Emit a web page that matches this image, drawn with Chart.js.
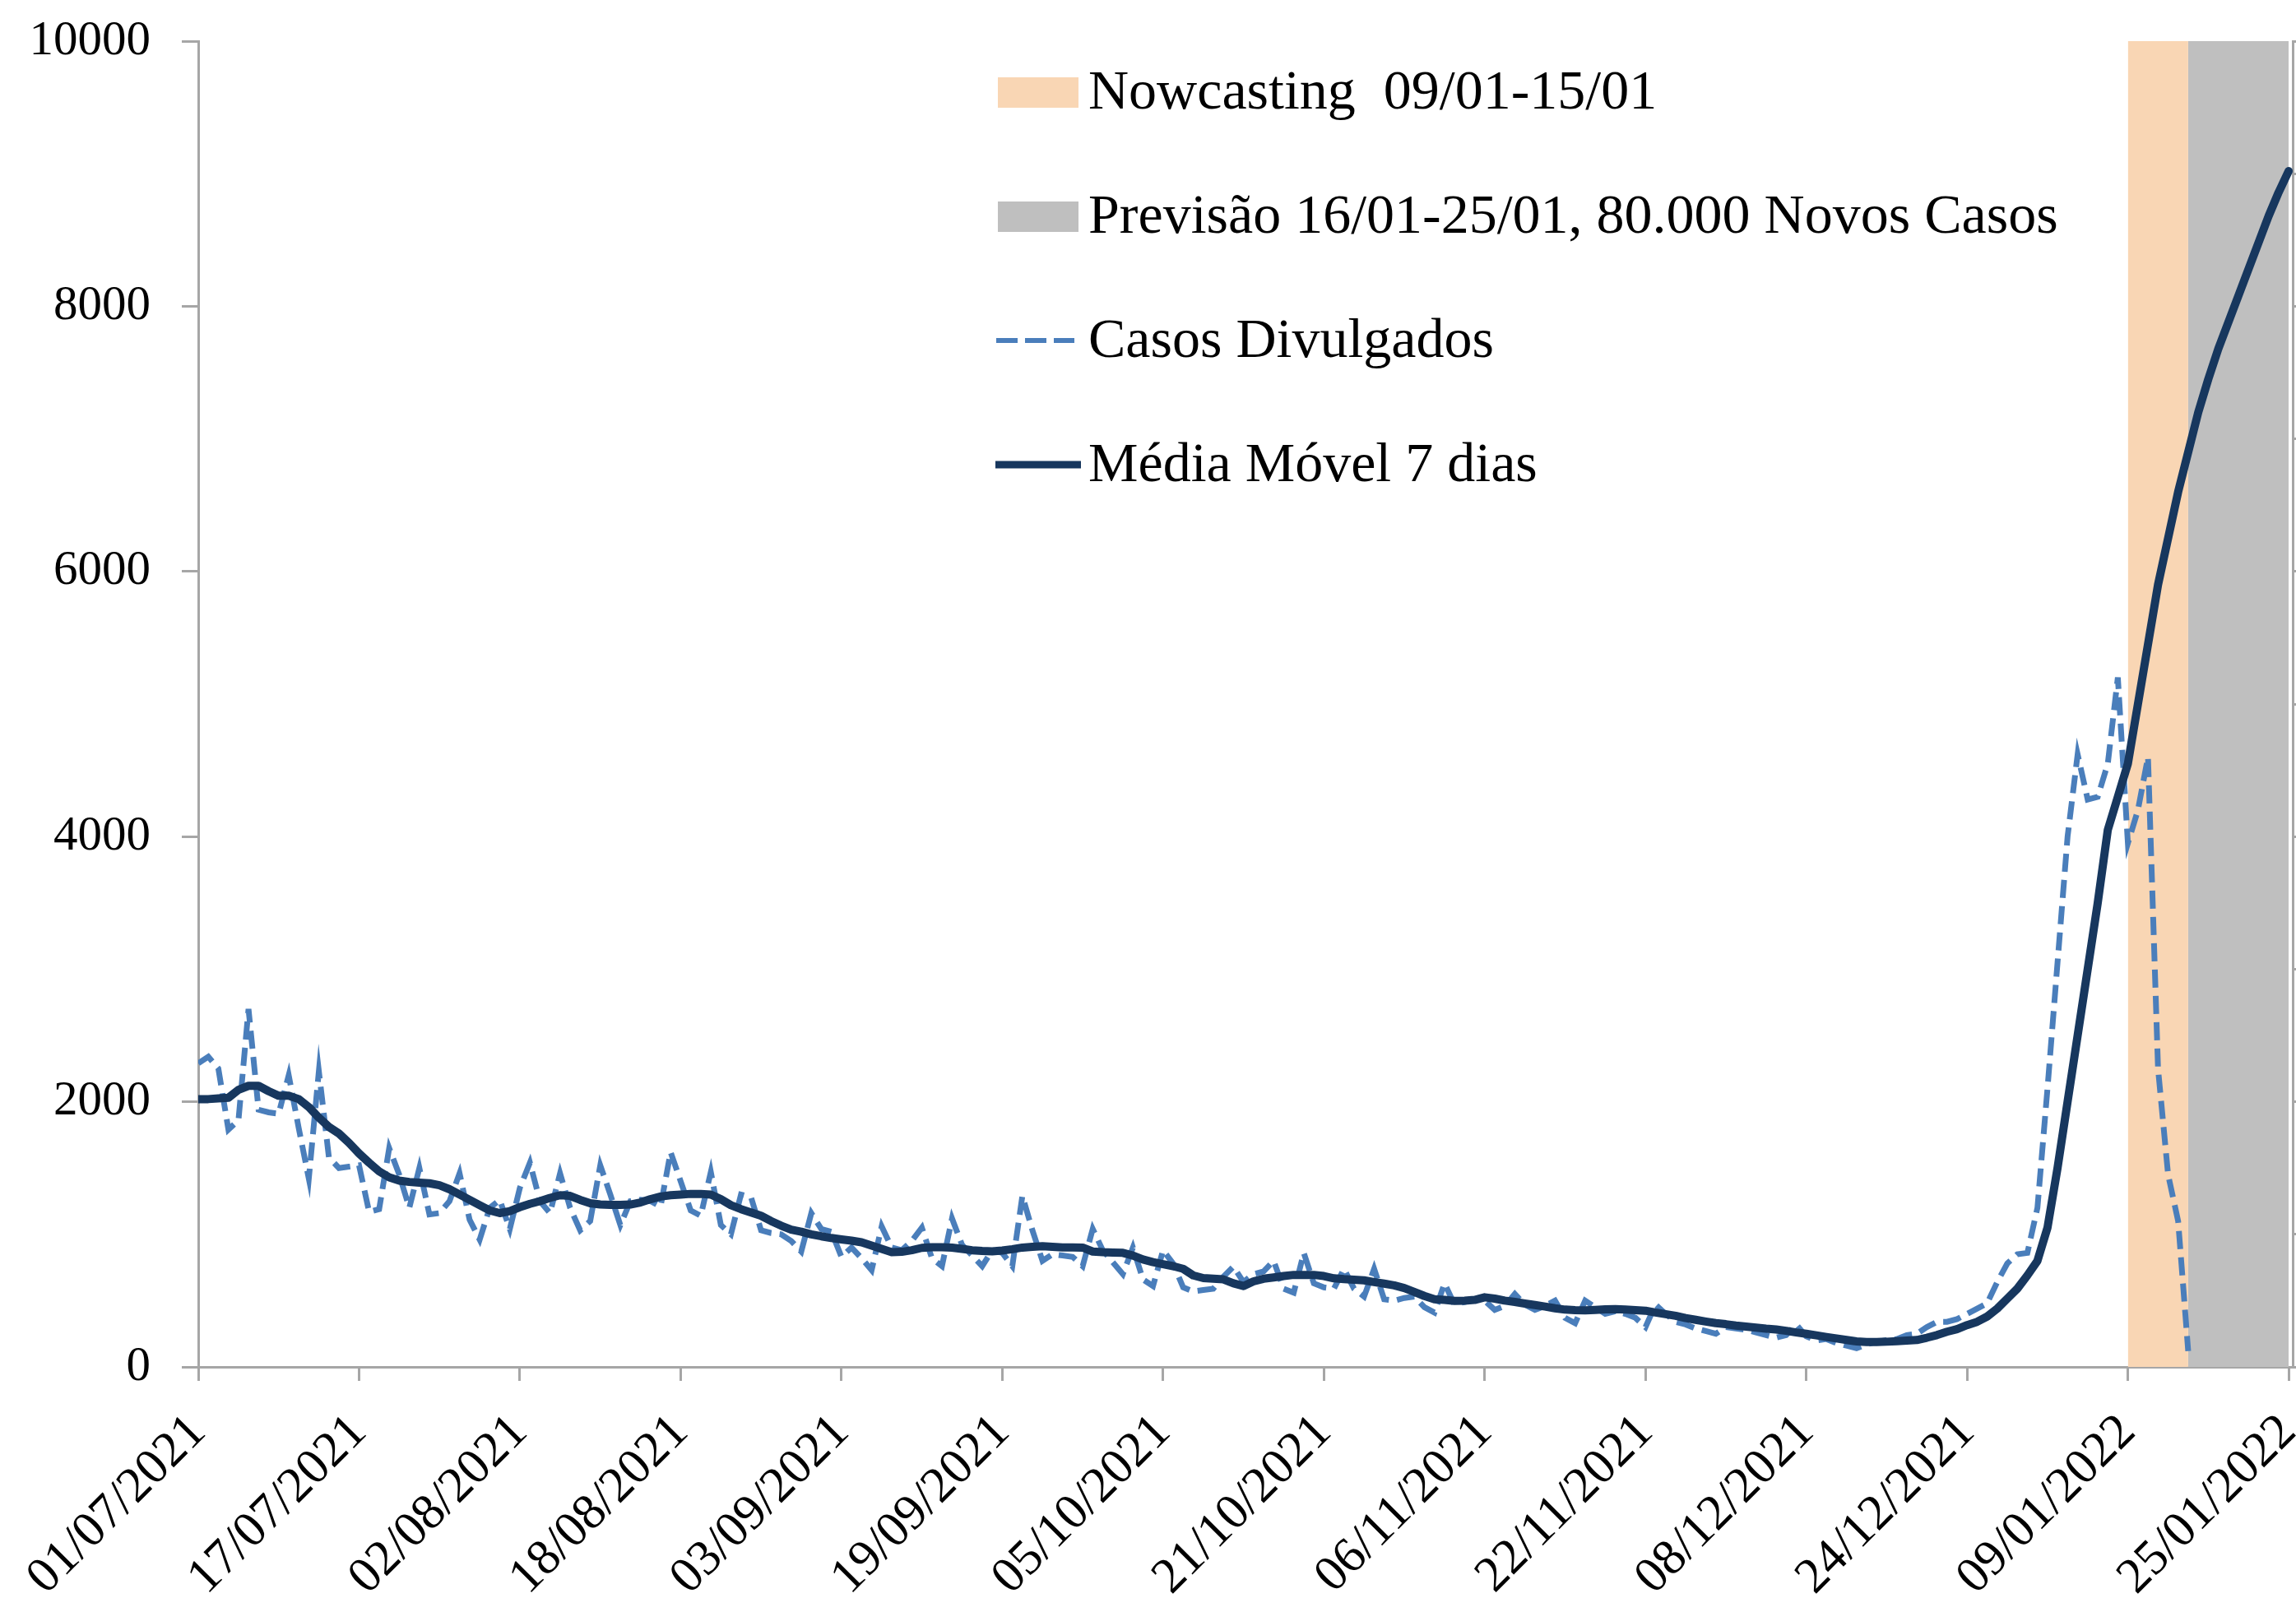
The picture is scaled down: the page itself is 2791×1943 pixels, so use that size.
<!DOCTYPE html>
<html>
<head>
<meta charset="utf-8">
<script src="https://cdn.jsdelivr.net/npm/chart.js@4.4.1/dist/chart.umd.min.js"></script>
<style>
  html, body { margin: 0; padding: 0; background: #ffffff; }
  #wrap { position: relative; width: 2791px; height: 1943px; overflow: hidden; background: #ffffff; }
  #c { position: absolute; left: 0; top: 0; }
  .lgtext { position: absolute; font-family: 'Liberation Serif', 'Times New Roman', serif; font-size: 68px; line-height: 68px; color: #000; white-space: pre; }
  .lgsw { position: absolute; }
</style>
</head>
<body>
<div id="wrap">
  <canvas id="c" width="2791" height="1943"></canvas>
</div>
<script>
// ---------------- DATA ----------------
const firstDay = [2021, 6, 1]; // 01/07/2021 (month is 0-based)
const tickLabels = ['01/07/2021','17/07/2021','02/08/2021','18/08/2021','03/09/2021','19/09/2021','05/10/2021',
                    '21/10/2021','06/11/2021','22/11/2021','08/12/2021','24/12/2021','09/01/2022','25/01/2022'];
const yTicks = [0, 2000, 4000, 6000, 8000, 10000];

// Casos Divulgados (daily reported cases), 01/07/2021 .. 15/01/2022
const casos = [
  2290, 2340, 2250, 1790, 1860, 2700, 1940, 1920, 1910, 2200,
  1800, 1420, 2230, 1580, 1500, 1510, 1520, 1170, 1190, 1650,
  1450, 1200, 1500, 1150, 1160, 1250, 1460, 1110, 960, 1200,
  1260, 1040, 1350, 1540, 1250, 1160, 1460, 1200, 1030, 1100,
  1520, 1300, 1070, 1250, 1260, 1250, 1210, 1620, 1400, 1180,
  1140, 1470, 1070, 1000, 1300, 1280, 1030, 1010, 1000, 950,
  870, 1160, 1040, 1020, 830, 900, 820, 730, 1060, 900,
  880, 950, 1050, 820, 760, 1120, 920, 840, 760, 880,
  860, 760, 1290, 1030, 800, 850, 840, 830, 760, 1040,
  880, 790, 700, 900, 660, 610, 880, 780, 600, 570,
  580, 590, 680, 756, 640, 700, 720, 800, 590, 560,
  860, 630, 600, 590, 740, 590, 530, 740, 510, 500,
  520, 530, 450, 410, 630, 470, 490, 510, 500, 430,
  460, 550, 470, 430, 460, 500, 370, 330, 500, 450,
  400, 420, 400, 370, 300, 470, 400, 340, 320, 290,
  270, 250, 300, 290, 280, 260, 240, 220, 240, 320,
  230, 200, 210, 180, 160, 140, 170, 190, 200, 210,
  240, 250, 300, 340, 340, 360, 400, 440, 480, 640,
  780, 850, 860, 1200, 2100, 3050, 4000, 4620, 4280, 4300,
  4550, 5200, 3950, 4200, 4600, 2250, 1450, 1100, 120
];

// Média Móvel 7 dias, 01/07/2021 .. 25/01/2022
const media = [
  2020, 2020, 2025, 2030, 2090, 2120, 2120, 2080, 2045, 2045,
  2020, 1960, 1880, 1810, 1760, 1690, 1610, 1540, 1475, 1430,
  1405, 1395, 1390, 1385, 1370, 1340, 1300, 1260, 1220, 1180,
  1160, 1175, 1205, 1230, 1250, 1275, 1295, 1290, 1260, 1235,
  1225, 1222, 1222, 1225, 1240, 1265, 1285, 1295, 1300, 1305,
  1305, 1300, 1265, 1220, 1190, 1165, 1140, 1100, 1065, 1035,
  1020, 1000, 985, 972, 962, 952, 940, 915, 890, 865,
  868, 880, 898, 902, 902, 900, 890, 880, 875, 872,
  878, 888, 900, 905, 910, 905, 901, 901, 900, 870,
  865, 862, 860, 840, 810, 790, 775, 760, 740, 690,
  670, 665, 660, 630, 610, 645, 665, 675, 685, 694,
  694, 694, 685, 668, 662, 658, 653, 640, 628, 615,
  595, 565, 535, 510, 505, 498, 500, 505, 525, 515,
  500, 490, 478, 467, 455, 442, 432, 428, 426, 430,
  434, 436, 432, 428, 424, 410, 398, 385, 368, 355,
  342, 330, 322, 312, 304, 296, 288, 282, 272, 260,
  250, 238, 226, 215, 203, 192, 188, 188, 190, 194,
  198, 203, 220, 240, 265, 285, 315, 340, 380, 440,
  515, 590, 690, 800, 1050, 1500, 2000, 2500, 3000, 3500,
  4050, 4300, 4550, 5000, 5450, 5900, 6250, 6600, 6900, 7200,
  7450, 7680, 7880, 8080, 8280, 8480, 8680, 8860, 9020
];

const nowcastRange  = ['09/01/2022', '15/01/2022'];
const forecastRange = ['15/01/2022', '25/01/2022'];

const legendLabels = ['Nowcasting  09/01-15/01', 'Previsão 16/01-25/01, 80.000 Novos Casos', 'Casos Divulgados', 'Média Móvel 7 dias'];

// ---------------- STYLE ----------------
const colNow = '#F9D6B4';
const colPrev = '#BFBFBF';
const colCasos = '#4A7EBB';
const colMedia = '#17375E';
const axisGray = '#A6A6A6';
const serif = "'Liberation Serif', 'Times New Roman', serif";

// category dates (one per day)
const dates = [];
for (let i = 0; i < media.length; i++) {
  const d = new Date(Date.UTC(firstDay[0], firstDay[1], firstDay[2] + i));
  dates.push(String(d.getUTCDate()).padStart(2, '0') + '/' + String(d.getUTCMonth() + 1).padStart(2, '0') + '/' + d.getUTCFullYear());
}
const idx = s => dates.indexOf(s);
const yTop = yTicks[yTicks.length - 1];

const band = (range, color) => ({
  type: 'line',
  data: [{ x: idx(range[0]), y: yTop }, { x: idx(range[1]), y: yTop }],
  fill: 'origin', backgroundColor: color, borderColor: 'rgba(0,0,0,0)', borderWidth: 0,
  pointRadius: 0, order: 10
});

Chart.defaults.font.family = serif;

new Chart(document.getElementById('c').getContext('2d'), {
  type: 'line',
  data: {
    datasets: [
      band(nowcastRange, colNow),
      band(forecastRange, colPrev),
      {
        data: casos.map((v, i) => ({ x: i, y: v })),
        borderColor: colCasos, borderWidth: 7, borderDash: [22, 10],
        pointRadius: 0, tension: 0, fill: false, order: 2
      },
      {
        data: media.map((v, i) => ({ x: i, y: v })),
        borderColor: colMedia, borderWidth: 10, borderJoinStyle: 'round', borderCapStyle: 'round',
        pointRadius: 0, tension: 0, fill: false, order: 1
      }
    ]
  },
  options: {
    responsive: false,
    animation: false,
    devicePixelRatio: 1,
    layout: { padding: { top: 50, right: 0, bottom: 0, left: 0 } },
    plugins: { legend: { display: false }, tooltip: { enabled: false } },
    scales: {
      x: {
        type: 'linear', position: 'bottom', min: 0, max: media.length - 1 + 0.4,
        afterBuildTicks: s => { s.ticks = tickLabels.map(l => ({ value: idx(l) })); },
        ticks: {
          autoSkip: false, minRotation: 45, maxRotation: 45, padding: 27,
          color: '#000', font: { family: serif, size: 61 },
          callback: v => dates[v] !== undefined ? dates[v] : ''
        },
        grid: { drawOnChartArea: false, drawTicks: true, tickLength: 17, color: axisGray, lineWidth: 3 },
        border: { display: true, color: axisGray, width: 3 },
        afterFit: s => { s.height = 281; s.paddingLeft = 0; s.paddingRight = 0; }
      },
      y: {
        position: 'left', min: 0, max: yTop,
        afterBuildTicks: s => { s.ticks = yTicks.map(v => ({ value: v })); },
        ticks: { padding: 38, color: '#000', font: { family: serif, size: 59 }, callback: v => String(v) },
        grid: { drawOnChartArea: false, drawTicks: true, tickLength: 20, color: axisGray, lineWidth: 3 },
        border: { display: true, color: axisGray, width: 3 },
        afterFit: s => { s.width = 241; s.paddingTop = 0; s.paddingBottom = 0; }
      },
      y2: {
        position: 'right', min: 0, max: yTop,
        ticks: { display: false, stepSize: 1000 },
        grid: { drawOnChartArea: false, drawTicks: true, tickLength: 12, color: axisGray, lineWidth: 3 },
        border: { display: true, color: axisGray, width: 3 },
        afterFit: s => { s.width = 4; s.paddingTop = 0; s.paddingBottom = 0; }
      }
    }
  }
});

// ---------------- LEGEND (HTML text) ----------------
const wrap = document.getElementById('wrap');
const lgLeft = 1213, lgTextLeft = 1323, lgFirstBase = 132, lgStep = 151;
const swatchKinds = [
  { kind: 'box', color: colNow },
  { kind: 'box', color: colPrev },
  { kind: 'dash', color: colCasos },
  { kind: 'line', color: colMedia }
];
legendLabels.forEach((label, k) => {
  const base = lgFirstBase + k * lgStep;
  const sw = swatchKinds[k];
  if (sw.kind === 'box') {
    const d = document.createElement('div');
    d.className = 'lgsw';
    d.style.left = lgLeft + 'px'; d.style.top = (base - 38) + 'px';
    d.style.width = '98px'; d.style.height = '37px'; d.style.background = sw.color;
    wrap.appendChild(d);
  } else {
    const ns = 'http://www.w3.org/2000/svg';
    const svg = document.createElementNS(ns, 'svg');
    svg.setAttribute('width', '110'); svg.setAttribute('height', '20');
    svg.style.position = 'absolute'; svg.style.left = (lgLeft - 3) + 'px'; svg.style.top = (base - 30) + 'px';
    const ln = document.createElementNS(ns, 'line');
    ln.setAttribute('x1', '0'); ln.setAttribute('x2', '104'); ln.setAttribute('y1', '10'); ln.setAttribute('y2', '10');
    ln.setAttribute('stroke', sw.color);
    if (sw.kind === 'dash') { ln.setAttribute('stroke-width', '6'); ln.setAttribute('stroke-dasharray', '26 9'); ln.setAttribute('x1', '1'); ln.setAttribute('x2', '96'); }
    else { ln.setAttribute('stroke-width', '9'); }
    svg.appendChild(ln);
    wrap.appendChild(svg);
  }
  const t = document.createElement('div');
  t.className = 'lgtext';
  t.style.left = lgTextLeft + 'px'; t.style.top = (base - 57) + 'px';
  t.textContent = label;
  wrap.appendChild(t);
});
</script>
</body>
</html>
